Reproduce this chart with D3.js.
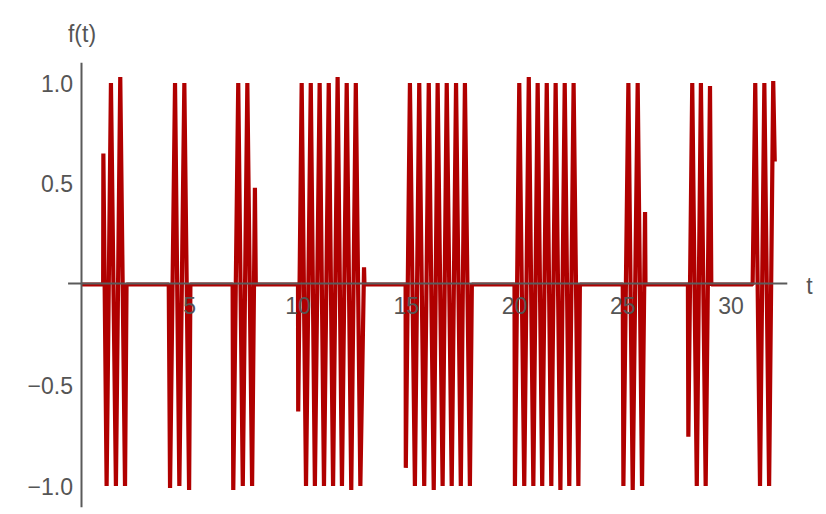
<!DOCTYPE html>
<html><head><meta charset="utf-8">
<script src="https://cdn.jsdelivr.net/npm/d3@7"></script>
<style>html,body{margin:0;padding:0;background:#fff;} svg{display:block;}</style>
</head><body>
<svg id="chart" width="826" height="514"></svg>
<script>
// Vertices [t, f(t)], burst by burst
const burst1 = [[1.00,0],[1.01,0.65],[1.16,-1],[1.36,1],[1.59,-1],[1.79,1.03],[2.01,-1],[2.08,0]];
const burst2 = [[4.03,0],[4.09,-1.01],[4.32,1],[4.52,-1],[4.75,1],[4.97,-1.02],[5.03,0]];
const burst3 = [[6.98,0],[7.01,-1.02],[7.24,1],[7.45,-1],[7.66,1],[7.88,-1],[8.01,0.48],[8.05,0]];
const burst4 = [[10.00,0],[10.01,-0.63],[10.17,1],[10.37,-1],[10.59,1],[10.78,-1],[11.00,1],[11.20,-1],[11.42,1],[11.62,-1],[11.83,1.03],[12.03,-1],[12.25,1],[12.46,-1.02],[12.67,1],[12.88,-1],[13.05,0.085],[13.07,0]];
const burst5 = [[14.97,0],[14.98,-0.91],[15.17,1],[15.40,-1],[15.60,1],[15.83,-1],[16.04,1],[16.27,-1.02],[16.45,1],[16.68,-1],[16.87,1],[17.10,-1],[17.30,1],[17.52,-1],[17.71,1],[17.94,-1],[18.03,0]];
const burst6 = [[20.00,0],[20.02,-1],[20.22,1],[20.45,-1],[20.66,1.03],[20.87,-1],[21.07,1],[21.28,-1],[21.49,1],[21.70,-1],[21.90,1],[22.12,-1.02],[22.32,1],[22.53,-1],[22.73,1],[22.95,-1],[23.02,0]];
const burst7 = [[25.00,0],[25.03,-1],[25.26,1],[25.46,-1.02],[25.69,1],[25.89,-1],[26.03,0.36],[26.05,0]];
const burst8 = [[28.01,0],[28.03,-0.755],[28.21,1],[28.42,-1],[28.61,1],[28.83,-1],[29.03,0.985],[29.09,0]];
const burst9 = [[31.00,0],[31.12,1],[31.34,-1],[31.54,1],[31.76,-1],[31.95,1.01],[32.02,0.61]];

const xTicks = [5, 10, 15, 20, 25, 30];
const yTicks = [-1, -0.5, 0.5, 1];
const yTickLabels = ["\u22121.0", "\u22120.5", "0.5", "1.0"];

const curve = [[0,0]].concat(burst1, burst2, burst3, burst4, burst5, burst6, burst7, burst8, burst9);

const svg = d3.select("#chart");
const x = d3.scaleLinear().domain([0, 32]).range([81.5, 81.5 + 32 * 21.65]);
const y = d3.scaleLinear().domain([-1, 1]).range([486, 83]);

const line = d3.line().x(d => x(d[0])).y(d => y(d[1]));

svg.append("path")
  .datum(curve)
  .attr("d", line)
  .attr("fill", "none")
  .attr("stroke", "#b00000")
  .attr("stroke-width", 4.2)
  .attr("stroke-linejoin", "bevel");

const axisColor = "#5a5a5a";
// y axis
svg.append("line")
  .attr("x1", x(0)).attr("x2", x(0))
  .attr("y1", y(1.1)).attr("y2", y(-1.105))
  .attr("stroke", axisColor).attr("stroke-width", 2);
// x axis
svg.append("line")
  .attr("x1", x(-0.62)).attr("x2", x(32.6))
  .attr("y1", y(0) - 1).attr("y2", y(0) - 1)
  .attr("stroke", axisColor).attr("stroke-width", 2);

const font = "'Liberation Sans', Arial, sans-serif";
const textColor = "#555";

svg.selectAll("text.xt").data(xTicks).enter().append("text")
  .attr("class", "xt")
  .attr("x", d => x(d)).attr("y", 314)
  .attr("text-anchor", "middle")
  .attr("font-family", font).attr("font-size", 23).attr("fill", textColor)
  .text(d => d);

svg.selectAll("text.yt").data(yTicks).enter().append("text")
  .attr("class", "yt")
  .attr("x", 73).attr("y", d => y(d) + 8.5)
  .attr("text-anchor", "end")
  .attr("font-family", font).attr("font-size", 23).attr("fill", textColor)
  .text((d, i) => yTickLabels[i]);

svg.append("text")
  .attr("x", 82).attr("y", 42)
  .attr("text-anchor", "middle")
  .attr("font-family", font).attr("font-size", 23).attr("fill", textColor)
  .text("f(t)");

svg.append("text")
  .attr("x", 809.5).attr("y", 293.5)
  .attr("text-anchor", "middle")
  .attr("font-family", font).attr("font-size", 23).attr("fill", textColor)
  .text("t");
</script>
</body></html>
